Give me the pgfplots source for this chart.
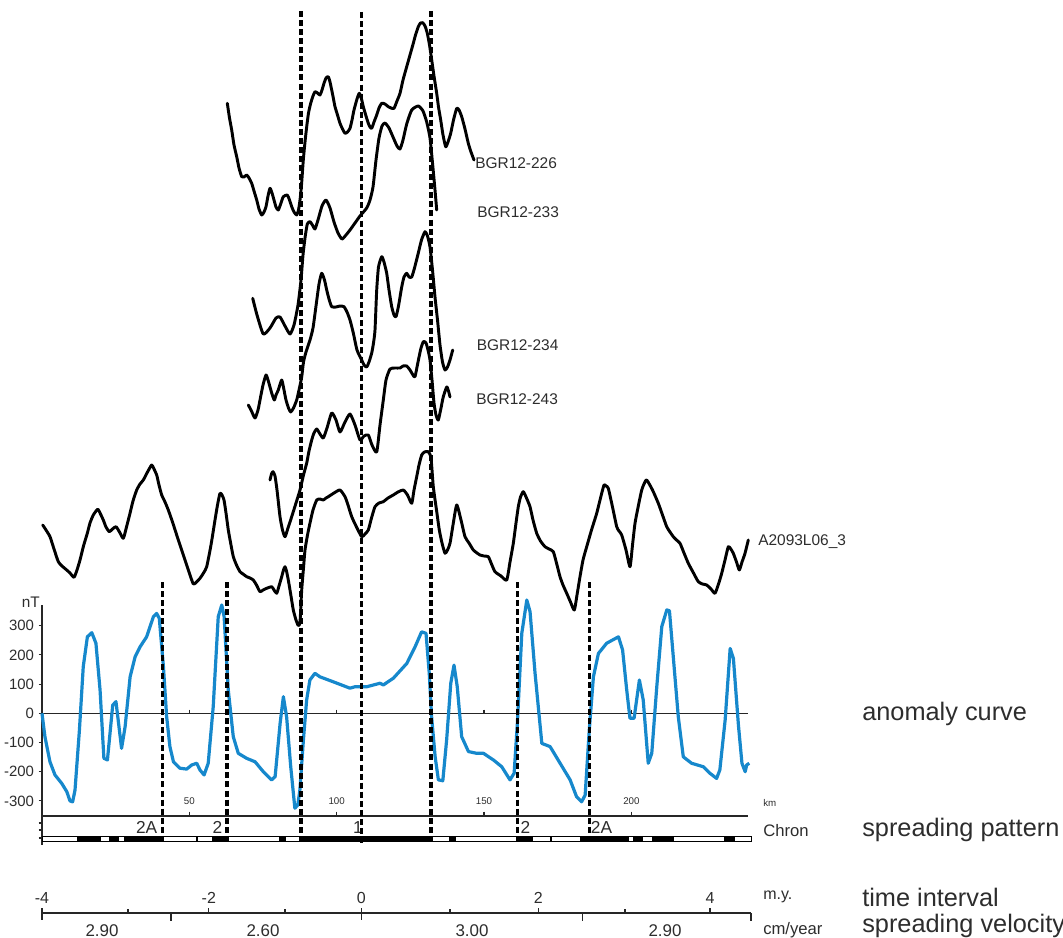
\documentclass[border=0pt]{standalone}
\usepackage{pgfplots}
\pgfplotsset{compat=1.18}
\usepackage{fontspec}
\setmainfont{Liberation Sans}
\definecolor{anomblue}{RGB}{22,136,204}
\definecolor{txt}{RGB}{45,45,45}
\tikzset{prof/.style={black, line width=2.2pt, line join=round, line cap=round, smooth, tension=0.35},
         dashl/.style={black, line width=2.4pt, dash pattern=on 4.5pt off 2.3pt}}
\begin{document}
\begin{tikzpicture}
\path[use as bounding box] (0,0) rectangle (797.25pt,703.5pt);
% ---------------- anomaly curve (km / nT) ----------------
\begin{axis}[at={(31.5pt,94.05pt)}, anchor=south west,
  scale only axis, width=529.6pt, height=155.5pt,
  xmin=0, xmax=239.6, ymin=-340, ymax=370,
  axis x line=none, axis y line*=left,
  ytick={-300,-200,-100,0,100,200,300},
  yticklabels={-300,-200,-100,0,100,200,300},
  yticklabel style={font=\fontsize{11.2}{13}\selectfont, text=txt},
  tick align=outside, major tick length=2.5pt,
  axis line style={black!85, line width=1pt},
  ytick style={black!85, line width=0.8pt},
  clip=false]
\draw[black!85, line width=1pt] (axis cs:0,0) -- (axis cs:239.6,0);
\addplot[anomblue, line width=2.4pt, line join=round] coordinates {
(0,0) (1.0,-80) (2.7,-166) (4.4,-211) (6.7,-240) (8.4,-268) (9.5,-300) (10.4,-303) (11.2,-263) (12.7,-57) (14.0,160) (15.4,262) (16.9,276) (18.3,240) (19.7,80) (21.0,-154) (22.2,-160) (24.0,28) (25.1,40) (27.0,-120) (28.2,-46) (29.9,125) (31.6,194) (33.3,228) (35.5,262) (37.8,331) (38.9,342) (39.8,325) (41.2,160) (42.3,-12) (43.4,-114) (44.6,-166) (46.8,-188) (49.1,-191) (50.8,-177) (52.5,-171) (53.6,-194) (55.0,-211) (56.4,-171) (58.1,23) (59.8,331) (61.0,371) (61.8,331) (63.2,80) (64.9,-80) (66.6,-137) (69.4,-154) (72.3,-166) (75.1,-200) (77.9,-228) (79.1,-217) (80.8,-34) (81.9,57) (83.0,-12) (84.4,-183) (85.8,-325) (86.8,-314) (87.5,-263) (88.7,-91) (89.8,46) (90.9,114) (92.6,137) (94.3,125) (98.8,108) (104.5,86) (106.2,91) (110.2,91) (114.7,103) (115.8,97) (119.2,120) (123.8,171) (126.6,228) (128.8,279) (130.3,274) (131.4,137) (132.2,-12) (133.4,-149) (134.5,-228) (136.0,-231) (137.3,-91) (138.7,103) (139.8,165) (140.9,91) (142.4,-80) (144.7,-131) (147.5,-137) (149.8,-137) (153.2,-160) (156.0,-183) (158.8,-228) (160.2,-205) (161.3,-34) (162.8,274) (164.5,388) (165.6,348) (167.3,137) (169.6,-103) (172.4,-114) (175.8,-171) (179.2,-228) (181.4,-286) (183.1,-303) (184.3,-280) (185.7,-57) (187.1,125) (188.8,205) (191.6,240) (195.6,262) (197.0,217) (198.4,80) (199.5,-17) (200.9,-17) (202.7,114) (204.0,46) (205.7,-171) (206.9,-137) (208.6,91) (210.3,297) (212.0,354) (212.9,351) (214.2,194) (215.9,-12) (217.6,-149) (220.4,-171) (224.4,-183) (226.6,-205) (228.9,-223) (230.0,-194) (231.8,-23) (233.5,222) (234.6,188) (236.3,-40) (237.5,-171) (238.6,-200) (239.1,-177) (240.0,-171)};
\end{axis}
% ---------------- profiles, scales and labels (picture units) ----------------
\begin{axis}[at={(0pt,0pt)}, anchor=south west, scale only axis,
  width=797.25pt, height=703.5pt, xmin=0, xmax=1063, ymin=0, ymax=938,
  y dir=reverse, hide axis, clip=false]
% BGR12-226
\addplot[prof] coordinates {
(227.3,103.3) (229.5,118) (231.7,130) (234,145) (236.7,156.7) (239,168) (241.7,176.7) (244,177) (246.7,175) (249,178) (251.7,183.3) (254,191) (256.7,200) (259,209) (261.7,215) (264,212) (266,206.7) (268,196) (270,188.3) (272,193) (274,200) (276,207) (278.3,210) (281,203) (283.3,196.7) (287.3,195) (289.5,200) (291.7,206.7) (294,212) (296.7,215) (298.5,210) (300,200) (301.5,185) (303.3,160) (305,142) (306.7,126.7) (308.5,113) (310.7,103.3) (313,96) (315,91.7) (317.5,93) (320,95) (322,90) (324,83.3) (326,78) (328.3,76.7) (330,82) (331.7,90) (333.5,99) (335,106.7) (337.5,115) (340,123.3) (342.5,129) (345,133.3) (347.5,132) (350,128.3) (352,120) (354,110) (357,99) (359.3,93.3) (361.5,99) (363.3,106.7) (366,116) (368.3,123.3) (370,127) (371.7,128.3) (374,122) (376.7,115) (379,108) (381.7,103.3) (385,104) (388.3,106.7) (391,108) (394,108.3) (397,101) (400,93.3) (403,80) (406.7,66.7) (410,55) (413.3,43.3) (415.5,35) (418.3,26.7) (420.5,23) (422.7,22.7) (425,26) (427.3,33.3) (429.5,45) (431.7,60) (434,76) (436.7,93.3) (438.5,107) (440.7,120) (443,135) (445.7,146.7) (448,142) (450.7,133.3) (453.5,120) (456.7,108.3) (459,110) (461.7,116.7) (465,129) (468.3,143.3) (471,152) (474,160)};
% BGR12-233
\addplot[prof] coordinates {
(252.7,298.3) (257,315) (263.3,334) (270,328) (276,318) (280,317) (285,326) (290,334) (294,325) (298,305) (301,280) (303,255) (305,238) (307.3,224) (310,221.7) (313,226) (315,229) (318,220) (322,206) (326,200) (330,208) (334,222) (338,233) (342,239) (346,235) (350,230) (355,223) (360,216) (366.7,208) (370,200) (373,187) (376,160) (379,138) (382,126) (385,123) (389,128) (393,137) (397,146) (400,149) (403,140) (406.7,124) (411.7,110) (418.3,106) (423,111) (426.7,122) (430,138) (432.7,165) (435,190) (436.7,210)};
% BGR12-234
\addplot[prof] coordinates {
(248.3,405) (251,410) (255,418) (258,410) (260,400) (263,385) (266,375) (268,380) (270,387) (272,394) (274.3,400) (276,395) (278.3,390) (281.7,380) (284,390) (286,400) (288.5,408) (290.7,412) (293.5,408) (296.7,400) (299,390) (301.7,377) (303.5,362) (306,352) (310,340) (313,328) (316,306) (319,284) (321.7,273.3) (324.5,280) (326.7,290) (329,299) (331.7,306.7) (336,307) (340,306) (344,306.7) (347,312) (350,320) (353.3,333) (357,350) (361.7,360) (364,365) (366.7,367) (369,362) (371.7,353) (373.5,343) (375,330) (376.7,290) (378.5,267) (381.7,256.7) (384,262) (386.7,273.3) (389,290) (391.7,306.7) (394,315) (396,316.7) (398.5,306) (401.7,287) (404,277) (406.7,273.3) (409,277) (411.7,277) (414.5,268) (418.3,253) (421.5,240) (425,231.7) (427.5,236) (430,247) (432.5,270) (435,297) (437.5,320) (440,345) (442.5,362) (445,370) (447.5,367) (450,360) (452.7,350)};
% BGR12-243
\addplot[prof] coordinates {
(270,480) (271.5,474) (273,471.7) (275,476) (277,490) (280,516.7) (282.5,530) (285,536.7) (288,528) (291.7,516.7) (296,503) (300,490) (303.5,475) (306.7,463) (309,451) (311.7,440) (314,433) (316.7,429) (320,434) (323.3,438) (327,428) (331.7,413) (336,420) (340,432) (345,422) (350,414) (355,425) (360,440) (364,436) (368.3,435) (372,445) (376.7,452) (380,425) (383.3,400) (386,380) (390,369) (395,368) (400,368) (403,366) (406.7,366) (410,370) (413,375) (415,376.7) (418,362) (421,348) (423.5,341.5) (426,343) (428,350) (430,360) (432,380) (434,403) (436,415) (438.3,420) (441,408) (443.3,396.7) (446.7,387) (448.5,391) (450,397)};
% A2093L06_3
\addplot[prof] coordinates {
(42.7,525) (46,530) (50,536.7) (54,549) (58.3,561.7) (62,566) (66.7,570) (70,573) (74,577.3) (77,570) (80,560) (83.5,546) (87.3,533.3) (90,523) (93.3,515) (97.7,509.3) (100.5,514) (103.3,520) (106,527) (109.3,531.7) (112.5,529) (116,526.7) (119.5,532) (123.3,538.3) (126.5,527) (130,513.3) (133,501) (136.7,490) (140,484) (143.3,480) (147.5,472) (151.7,465) (154,469) (156.7,475) (159,485) (161.7,495) (165,502) (168.3,510) (172.5,522) (176.7,535) (181,548) (185,560) (189,572) (193.3,584) (196.5,582) (200,578.3) (203.5,573) (206.7,566.7) (211,545) (215,520) (217.5,505) (220,493.3) (222,495) (224,500) (226,513) (228.3,530) (231,545) (233.3,556.7) (236.5,565) (240,571.7) (243,574) (246.7,576.7) (250,578) (253.3,580) (256.5,585) (260,591.7) (263,590) (266.7,588.3) (271.7,586.7) (274,590) (276.7,593.3) (279,586) (281.7,576.7) (283.5,570) (285,566.7) (286.5,571) (288.3,580) (291,596) (293.3,610) (296,620) (298.3,625.5) (300,622) (301.7,590) (303.5,568) (305,550) (307.5,535) (310,523) (313,510) (316.7,500) (320,499) (323.3,500) (326,498) (328.3,496.7) (334,493) (340,490) (345,496.7) (348,505) (351.7,516.7) (356.5,527) (361.7,536.7) (365,534) (368.3,530) (371.5,518) (375,506.7) (379,503) (383.3,501.7) (388,498) (393.3,495) (398,492) (403.3,490) (407.5,495) (411.7,503.3) (414,490) (416.7,476.7) (419,465) (421.7,455) (424.5,452) (428.3,451.7) (431,458) (433.3,486.7) (436.5,510) (439.3,530) (442,543) (445,553.3) (447.5,550) (450,543.3) (453,525) (456.7,505) (461,520) (465,536.7) (469,543) (473.3,550) (477,553) (480,555) (484,556) (488.3,556.7) (491.5,564) (495,571.7) (501,576) (506.7,580) (510,562) (513.3,543.3) (516,523) (518.3,506.7) (520.5,497) (523.3,491.7) (526.5,498) (530,506.7) (533,520) (536.7,533.3) (540.5,541) (545,546.7) (549,549) (553.3,551.7) (557,565) (560,576.7) (563,585) (566.7,593.3) (570.5,602) (574.3,610) (577,595) (580,576.7) (583,560) (586.7,546.7) (591.5,530) (596.7,513.3) (600.5,498) (604,485) (606,486) (608.3,488.3) (612.5,507) (616.7,526.7) (619,531) (621.7,535) (626,550) (630,566.7) (632.5,545) (635,523.3) (638.5,505) (641.7,490) (644,484) (646.7,480) (652.5,490) (658.3,503.3) (662.5,515) (666.7,526.7) (670,532) (673.3,536.7) (676.5,540) (680,543.3) (684,553) (688.3,563.3) (693.5,573) (698.3,581.7) (702.5,584) (706.7,585) (711,589) (715,593.3) (718.5,584) (721.7,573.3) (725,560) (728.3,546.7) (730.8,549) (733.3,553.3) (736.5,562) (739.3,570) (742,562) (745,553.3) (748.3,540)};
% profile labels
\begin{scope}[every node/.style={text=txt, font=\fontsize{11.6}{13}\selectfont, anchor=west, inner sep=0pt}]
\node at (axis cs:475,163) {BGR12-226};
\node at (axis cs:477,212) {BGR12-233};
\node at (axis cs:476.5,345) {BGR12-234};
\node at (axis cs:476,399) {BGR12-243};
\node at (axis cs:758,542) {A2093L06\_3};
\end{scope}
% km ticks and labels
\draw[black!85, line width=0.8pt] (axis cs:189.4,709.5) -- (axis cs:189.4,713.3)
  (axis cs:336.7,709.5) -- (axis cs:336.7,713.3) (axis cs:484,709.5) -- (axis cs:484,713.3)
  (axis cs:631.4,709.5) -- (axis cs:631.4,713.3);
\draw[black!85, line width=0.8pt] (axis cs:189.4,811.5) -- (axis cs:189.4,816)
  (axis cs:336.7,811.5) -- (axis cs:336.7,816) (axis cs:484,811.5) -- (axis cs:484,816)
  (axis cs:631.4,811.5) -- (axis cs:631.4,816);
\begin{scope}[every node/.style={text=txt, font=\fontsize{7.3}{8}\selectfont, inner sep=0pt}]
\node at (axis cs:189.4,801) {50};
\node at (axis cs:336.7,801) {100};
\node at (axis cs:484,801) {150};
\node at (axis cs:631.4,801) {200};
\node[anchor=west] at (axis cs:763,803) {km};
\node[anchor=east, font=\fontsize{11.5}{13}\selectfont] at (axis cs:40,602.5) {nT};
\end{scope}
% chron box
\draw[black!85, line width=1pt] (axis cs:42,816) -- (axis cs:748,816);
\draw[black!85, line width=1pt] (axis cs:42,812) -- (axis cs:42,845);
\draw[black!85, line width=0.8pt] (axis cs:38.5,823) -- (axis cs:42,823)
  (axis cs:38.5,830) -- (axis cs:42,830) (axis cs:38.5,838) -- (axis cs:42,838);
\fill[white, draw=black, line width=0.6pt] (axis cs:42,836) rectangle (axis cs:751,841.5);
\fill[black] (axis cs:77,835.5) rectangle (axis cs:101,842);
\fill[black] (axis cs:109,835.5) rectangle (axis cs:119,842);
\fill[black] (axis cs:124,835.5) rectangle (axis cs:163,842);
\fill[black] (axis cs:196,835.5) rectangle (axis cs:198,842);
\fill[black] (axis cs:212,835.5) rectangle (axis cs:226,842);
\fill[black] (axis cs:279,835.5) rectangle (axis cs:286,842);
\fill[black] (axis cs:302,835.5) rectangle (axis cs:431,842);
\fill[black] (axis cs:449,835.5) rectangle (axis cs:456,842);
\fill[black] (axis cs:517,835.5) rectangle (axis cs:533,842);
\fill[black] (axis cs:550,835.5) rectangle (axis cs:552,842);
\fill[black] (axis cs:580,835.5) rectangle (axis cs:629,842);
\fill[black] (axis cs:633,835.5) rectangle (axis cs:643,842);
\fill[black] (axis cs:652,835.5) rectangle (axis cs:674,842);
\fill[black] (axis cs:724,835.5) rectangle (axis cs:735,842);
\begin{scope}[every node/.style={text=txt, font=\fontsize{13}{15}\selectfont, anchor=base, inner sep=0pt}]
\node at (axis cs:146.7,833) {2A};
\node at (axis cs:217.5,833) {2};
\node at (axis cs:358,833) {1};
\node at (axis cs:525.5,833) {2};
\node at (axis cs:601.5,833) {2A};
\node[anchor=base west, font=\fontsize{12.5}{15}\selectfont] at (axis cs:763,836) {Chron};
\end{scope}
% dashed lines
\draw[dashl] (axis cs:301,11) -- (axis cs:301,843);
\draw[dashl] (axis cs:361.3,12) -- (axis cs:361.3,843);
\draw[dashl] (axis cs:431,11) -- (axis cs:431,843);
\draw[dashl] (axis cs:162.3,582) -- (axis cs:162.3,843);
\draw[dashl] (axis cs:227,582) -- (axis cs:227,843);
\draw[dashl] (axis cs:517.7,582) -- (axis cs:517.7,843);
\draw[dashl] (axis cs:589.3,582) -- (axis cs:589.3,843);
% time scale
\draw[black!85, line width=1pt] (axis cs:42,913) -- (axis cs:751,913);
\draw[black!85, line width=1pt]
  (axis cs:42,908) -- (axis cs:42,920) (axis cs:361.4,908) -- (axis cs:361.4,920)
  (axis cs:128,909) -- (axis cs:128,913) (axis cs:208.8,908) -- (axis cs:208.8,913)
  (axis cs:285,909) -- (axis cs:285,913) (axis cs:450,909) -- (axis cs:450,913)
  (axis cs:538.4,908) -- (axis cs:538.4,913) (axis cs:625,909) -- (axis cs:625,913)
  (axis cs:710,908) -- (axis cs:710,913)
  (axis cs:171,913) -- (axis cs:171,921) (axis cs:582.6,913) -- (axis cs:582.6,921)
  (axis cs:751,913) -- (axis cs:751,921);
\begin{scope}[every node/.style={text=txt, font=\fontsize{12}{14}\selectfont, anchor=base, inner sep=0pt}]
\node at (axis cs:42,903) {-4};
\node at (axis cs:208.8,903) {-2};
\node at (axis cs:361.4,903) {0};
\node at (axis cs:538.4,903) {2};
\node at (axis cs:710,903) {4};
\node[anchor=base west] at (axis cs:763,899) {m.y.};
\end{scope}
\begin{scope}[every node/.style={text=txt, font=\fontsize{12.7}{14}\selectfont, anchor=base, inner sep=0pt}]
\node at (axis cs:102,936) {2.90};
\node at (axis cs:263,936) {2.60};
\node at (axis cs:472,936) {3.00};
\node at (axis cs:665,936) {2.90};
\node[anchor=base west, font=\fontsize{12.5}{14}\selectfont] at (axis cs:763,934) {cm/year};
\end{scope}
% right-hand captions
\begin{scope}[every node/.style={text=txt, font=\fontsize{19}{22}\selectfont, anchor=base west, inner sep=0pt}]
\node at (axis cs:862,720) {anomaly curve};
\node at (axis cs:862,836) {spreading pattern};
\node at (axis cs:862,906) {time interval};
\node at (axis cs:862,932) {spreading velocity};
\end{scope}
\end{axis}
\end{tikzpicture}
\end{document}
